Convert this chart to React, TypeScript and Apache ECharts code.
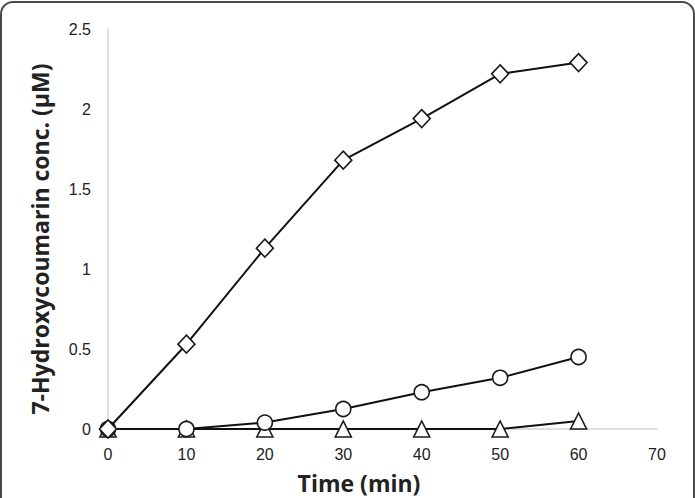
import React, { useEffect, useRef } from "react";
import * as echarts from "echarts";

const times = [0, 10, 20, 30, 40, 50, 60];
const diamondSeries = [0, 0.53, 1.13, 1.68, 1.94, 2.22, 2.29];
const circleSeries = [0, 0, 0.04, 0.125, 0.23, 0.32, 0.45];
const triangleSeries = [0, 0, 0, 0, 0, 0, 0.05];
const xTicks = [0, 10, 20, 30, 40, 50, 60, 70];
const yTicks = [0, 0.5, 1, 1.5, 2, 2.5];

const yTitle = "7-Hydroxycoumarin conc. (\u03bcM)";
const xTitle = "Time (min)";

export default function App() {
  const ref = useRef<HTMLDivElement>(null);
  useEffect(() => {
    if (!ref.current) return;
    const chart = echarts.init(ref.current, null, { renderer: "svg" });
    const pair = (vals: number[]) => times.map((t, i) => [t, vals[i]]);
    const markerStyle = { color: "#ffffff", borderColor: "#1a1a1a", borderWidth: 1.6 };
    const lineStyle = { color: "#111111", width: 2 };
    const tickFont = {
      color: "#222222",
      fontSize: 16,
      fontFamily: "Liberation Sans",
    };
    chart.setOption({
      animation: false,
      backgroundColor: "#ffffff",
      grid: { left: 108, right: 38, top: 29, bottom: 69 },
      xAxis: {
        type: "value",
        min: xTicks[0],
        max: xTicks[xTicks.length - 1],
        interval: 10,
        axisLine: { show: true, lineStyle: { color: "#d4d4d4", width: 1.5 } },
        axisTick: { show: false },
        splitLine: { show: false },
        axisLabel: { ...tickFont, margin: 17 },
      },
      yAxis: {
        type: "value",
        min: yTicks[0],
        max: yTicks[yTicks.length - 1],
        interval: 0.5,
        axisLine: { show: true, lineStyle: { color: "#d4d4d4", width: 1.5 } },
        axisTick: { show: false },
        splitLine: { show: false },
        axisLabel: { ...tickFont, margin: 17 },
      },
      series: [
        {
          type: "line",
          data: pair(triangleSeries),
          symbol: "triangle",
          symbolSize: 16,
          lineStyle,
          itemStyle: markerStyle,
          z: 2,
        },
        {
          type: "line",
          data: pair(circleSeries),
          symbol: "circle",
          symbolSize: 15,
          lineStyle,
          itemStyle: markerStyle,
          z: 3,
        },
        {
          type: "line",
          data: pair(diamondSeries),
          symbol: "diamond",
          symbolSize: [17, 18],
          lineStyle,
          itemStyle: markerStyle,
          z: 4,
        },
      ],
      graphic: [
        {
          type: "rect",
          shape: { x: 1, y: 2, width: 693, height: 540, r: 12 },
          style: { fill: "none", stroke: "#4a4a4a", lineWidth: 2 },
          z: 10,
        },
        {
          type: "text",
          x: 40,
          y: 239,
          rotation: Math.PI / 2,
          style: {
            text: yTitle,
            fontFamily: "Open Sans",
            fontWeight: "bold",
            fontSize: 23,
            fill: "#222222",
            align: "center",
            verticalAlign: "middle",
          },
        },
        {
          type: "text",
          x: 359,
          y: 483,
          style: {
            text: xTitle,
            fontFamily: "Open Sans",
            fontWeight: "bold",
            fontSize: 23,
            fill: "#222222",
            align: "center",
            verticalAlign: "middle",
          },
        },
      ],
    });
    return () => chart.dispose();
  }, []);
  return (
    <div
      ref={ref}
      style={{ position: "absolute", left: 0, top: 0, width: 695, height: 498 }}
    />
  );
}
